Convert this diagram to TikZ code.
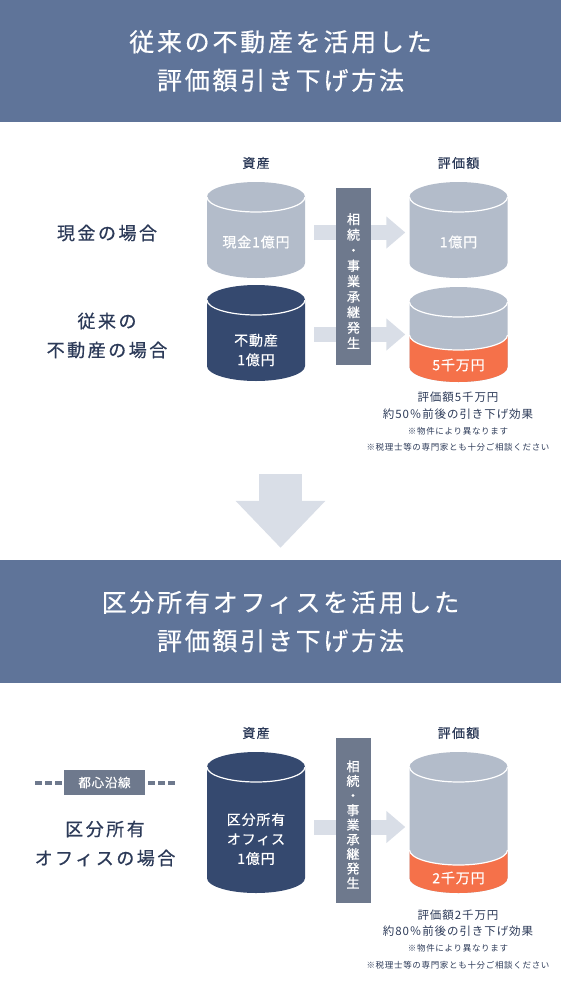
\documentclass[tikz,border=0pt]{standalone}
\usepackage{fontspec}
\setmainfont{Noto Sans CJK JP}
\newfontfamily\jpmed{Noto Sans CJK JP}[FakeBold=0.6]
\usetikzlibrary{arrows.meta,positioning}

\definecolor{headblue}{HTML}{5F7499}
\definecolor{navy}{HTML}{35496F}
\definecolor{drumgray}{HTML}{B3BCCA}
\definecolor{drumorange}{HTML}{F5714A}
\definecolor{barslate}{HTML}{6E798D}
\definecolor{arrowpale}{HTML}{D9DEE7}
\definecolor{inktext}{HTML}{2C3A58}

% drum: name, x, top y, bottom y, colour (y in pixels, downwards)
\newcommand{\drum}[5]{%
  \fill[#5] (#2-49,-#3) -- (#2-49,-#4) arc[start angle=180,end angle=360,x radius=49,y radius=15]
    -- (#2+49,-#3) arc[start angle=0,end angle=180,x radius=49,y radius=15] -- cycle;
  \draw[white, line width=1.2pt] (#2-49,-#3) arc[start angle=180,end angle=360,x radius=49,y radius=15];
  \node[inner sep=0, minimum width=98pt, minimum height=1pt] (#1) at ({#2},{-(#3+#4)/2}) {};
}
% lower part of a drum: x, split y, bottom y, colour
\newcommand{\drumbase}[4]{%
  \fill[#4] (#1-49,-#2) arc[start angle=180,end angle=360,x radius=49,y radius=15]
    -- (#1+49,-#3) arc[start angle=0,end angle=-180,x radius=49,y radius=15] -- cycle;
  \draw[white, line width=1.2pt] (#1-49,-#2) arc[start angle=180,end angle=360,x radius=49,y radius=15];
}

\begin{document}
\begin{tikzpicture}[x=1pt, y=1pt,
  header/.style={fill=headblue, text=white, inner sep=0, minimum width=561pt, align=center,
    font=\jpmed\fontsize{25}{38.5}\selectfont\addfontfeature{LetterSpace=11}},
  colhead/.style={text=inktext, font=\jpmed\fontsize{13}{15}\selectfont\addfontfeature{LetterSpace=10}},
  casename/.style={text=inktext, align=center, font=\jpmed\fontsize{18}{29}\selectfont\addfontfeature{LetterSpace=14}},
  drumtext/.style={text=white, align=center, font=\jpmed\fontsize{14}{19.5}\selectfont\addfontfeature{LetterSpace=6}},
  eventbar/.style={fill=barslate, inner sep=0, minimum width=35pt},
  bartext/.style={text=white, align=center, font=\jpmed\fontsize{13}{15.5}\selectfont},
  flow/.style={draw=arrowpale, line width=15pt, -{Triangle[length=19pt,width=31pt]}},
  sink/.style={draw=arrowpale, line width=43pt, -{Triangle[length=47pt,width=87pt]}},
  note/.style={text=inktext, font=\fontsize{11.5}{14}\selectfont\addfontfeature{LetterSpace=8}},
  smallnote/.style={text=inktext, font=\fontsize{8.5}{10}\selectfont\addfontfeature{LetterSpace=8}},
  tag/.style={fill=barslate, text=white, inner sep=0, minimum width=81pt, minimum height=25pt,
    font=\jpmed\fontsize{12.5}{14}\selectfont\addfontfeature{LetterSpace=6}},
  tagdash/.style={draw=barslate, line width=4pt, dash pattern=on 7pt off 3pt}]
\useasboundingbox (0,0) rectangle (561,-994);

% upper part
\node[header, minimum height=122pt] (h1) at (280.5,-61) {従来の不動産を活用した\\評価額引き下げ方法};
\node[colhead] (a1) at (256,-163) {資産};
\node[colhead] (v1) at (458.5,-163) {評価額};
\node[casename] (k1) at (107,-233) {現金の場合};
\node[casename] (k2) at (107,-335.5) {従来の\\不動産の場合};

\drum{c1}{256}{197}{263}{drumgray}
\drum{c2}{256}{300}{366}{navy}
\drum{c3}{458.5}{197}{263}{drumgray}
\drum{c4}{458.5}{302}{367}{drumgray}
\drumbase{458.5}{335}{367}{drumorange}

\draw[flow] ([xshift=9pt,yshift=-2.5pt]c1.east) -- ([xshift=-4pt,yshift=-2.5pt]c3.west);
\draw[flow] ([xshift=9pt]c2.east |- c4.west) -- ([xshift=-4pt]c4.west);

\node[eventbar, minimum height=177pt] (b1) at (353.5,-276.5) {};
\node[bartext] (b1t) at (353.5,-281) {相\\続\\・\\事\\業\\承\\継\\発\\生};

\node[drumtext] (c1t) at (256,-242) {現金1億円};
\node[drumtext] (c2t) at (256,-350) {不動産\\1億円};
\node[drumtext] (c3t) at (458.5,-242) {1億円};
\node[drumtext] (c4t) at (458.5,-365) {5千万円};

\node[note] (m1) at (458,-397) {評価額5千万円};
\node[note] (m2) at (458,-414) {約50％前後の引き下げ効果};
\node[smallnote] (m3) at (458,-431) {※物件により異なります};
\node[smallnote] (m4) at (458,-447) {※税理士等の専門家とも十分ご相談ください};

% step down
\node[header, minimum height=123pt] (h2) at (280.5,-621.5) {区分所有オフィスを活用した\\評価額引き下げ方法};
\coordinate (drop) at (280.5,-474);
\draw[sink] (drop) -- ([yshift=12pt]h2.north);

% lower part
\node[colhead] (a2) at (256,-733) {資産};
\node[colhead] (v2) at (458.5,-733) {評価額};
\node[tag] (line) at (104.5,-782.5) {都心沿線};
\draw[tagdash] ([xshift=-2pt]line.west) -- ++(-27pt,0);
\draw[tagdash] ([xshift=3pt]line.east) -- ++(27pt,0);
\node[casename] (k3) at (105,-843.5) {区分所有\\オフィスの場合};

\drum{d1}{256}{767}{878}{navy}
\drum{d2}{458.5}{767}{878}{drumgray}
\drumbase{458.5}{850}{878}{drumorange}

\draw[flow] ([xshift=9pt,yshift=-4.5pt]d1.east) -- ([xshift=-4pt,yshift=-4.5pt]d2.west);

\node[eventbar, minimum height=165pt] (b2) at (353,-820.5) {};
\node[bartext, font=\jpmed\fontsize{13}{14.6}\selectfont] (b2t) at (353,-824.5) {相\\続\\・\\事\\業\\承\\継\\発\\生};

\node[drumtext] (d1t) at (256,-839) {区分所有\\オフィス\\1億円};
\node[drumtext] (d2t) at (458.5,-878) {2千万円};

\node[note] (p1) at (458,-915) {評価額2千万円};
\node[note] (p2) at (458,-931) {約80％前後の引き下げ効果};
\node[smallnote] (p3) at (458,-948) {※物件により異なります};
\node[smallnote] (p4) at (458,-965) {※税理士等の専門家とも十分ご相談ください};
\end{tikzpicture}
\end{document}
